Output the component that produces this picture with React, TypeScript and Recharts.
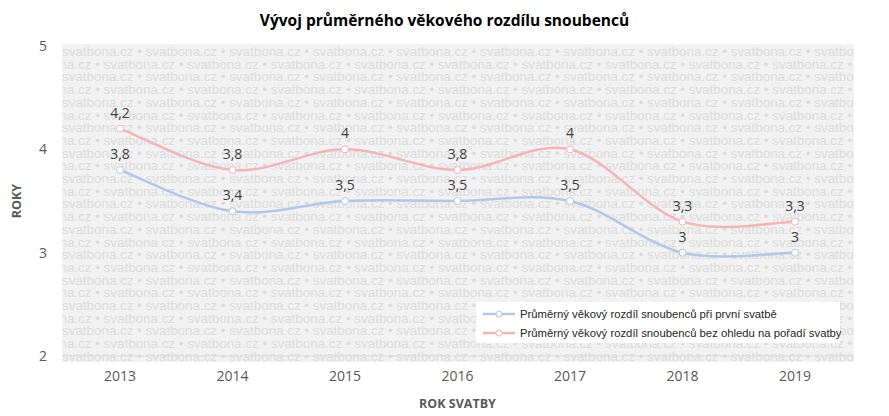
import React from "react";
import { LineChart, Line, XAxis, YAxis, Legend, LabelList } from "recharts";

const years = ["2013", "2014", "2015", "2016", "2017", "2018", "2019"];
const firstMarriage = [3.8, 3.4, 3.5, 3.5, 3.5, 3.0, 3.0];
const anyMarriage = [4.2, 3.8, 4.0, 3.8, 4.0, 3.3, 3.3];
const yTicks = [2, 3, 4, 5];

const seriesNames = {
  first: "Průměrný věkový rozdíl snoubenců při první svatbě",
  any: "Průměrný věkový rozdíl snoubenců bez ohledu na pořadí svatby",
};
const legendOrder = [seriesNames.first, seriesNames.any];

const data = years.map((year, i) => ({
  year,
  first: firstMarriage[i],
  any: anyMarriage[i],
}));

const BLUE = "#b4c7e7";
const PINK = "#f4b5b7";
const FONT = "'Open Sans', sans-serif";

// Excel-like smoothing (Catmull-Rom through the scaled points)
const smoothCurve = (context: any) => {
  let pts: [number, number][] = [];
  return {
    areaStart() {},
    areaEnd() {},
    lineStart() {
      pts = [];
    },
    point(x: number, y: number) {
      pts.push([+x, +y]);
    },
    lineEnd() {
      if (!pts.length) return;
      context.moveTo(pts[0][0], pts[0][1]);
      for (let i = 0; i < pts.length - 1; i++) {
        const p0 = pts[Math.max(i - 1, 0)];
        const p1 = pts[i];
        const p2 = pts[i + 1];
        const p3 = pts[Math.min(i + 2, pts.length - 1)];
        context.bezierCurveTo(
          p1[0] + (p2[0] - p0[0]) / 6,
          p1[1] + (p2[1] - p0[1]) / 6,
          p2[0] - (p3[0] - p1[0]) / 6,
          p2[1] - (p3[1] - p1[1]) / 6,
          p2[0],
          p2[1]
        );
      }
    },
  };
};

const fmt = (v: any) => String(v).replace(".", ",");

function Watermark() {
  const row = "svatbona.cz • ".repeat(12);
  return (
    <div
      style={{
        position: "absolute",
        left: 62,
        top: 44,
        width: 792,
        height: 318,
        background: "#f2f2f2",
        overflow: "hidden",
        paddingTop: 2,
        boxSizing: "border-box",
        fontFamily: "'Liberation Sans', Arial, sans-serif",
        fontSize: 13.4,
        lineHeight: "12.7px",
        color: "#dcdcdc",
        whiteSpace: "nowrap",
      }}
    >
      {Array.from({ length: 26 }, (_, i) => (
        <div key={i} style={{ marginLeft: i % 2 ? -42 : 0 }}>
          {row}
        </div>
      ))}
    </div>
  );
}

function LegendBox(props: any) {
  const items = [...(props.payload || [])].sort(
    (a: any, b: any) => legendOrder.indexOf(a.value) - legendOrder.indexOf(b.value)
  );
  return (
    <div
      style={{
        width: 364,
        height: 41,
        boxSizing: "border-box",
        background: "#fff",
        padding: "2px 0",
        fontFamily: "'Liberation Sans', Arial, sans-serif",
        fontSize: 11.3,
        color: "#262626",
        whiteSpace: "nowrap",
      }}
    >
      {items.map((p: any) => (
        <div key={p.value} style={{ display: "flex", alignItems: "center", height: 19 }}>
          <svg width={44} height={10} style={{ flex: "none" }}>
            <line x1={7} x2={39} y1={5} y2={5} stroke={p.color} strokeWidth={2.5} />
            <circle cx={23} cy={5} r={3} fill="#fff" stroke={p.color} strokeWidth={1} />
          </svg>
          <span>{p.value}</span>
        </div>
      ))}
    </div>
  );
}

export default function App() {
  return (
    <div
      style={{
        position: "absolute",
        left: 0,
        top: 0,
        width: 889,
        height: 416,
        background: "#fff",
        fontFamily: FONT,
      }}
    >
      <Watermark />
      <div
        style={{
          position: "absolute",
          left: 0,
          top: 9,
          width: 889,
          textAlign: "center",
          fontWeight: 700,
          fontSize: 15.5,
          color: "#000",
        }}
      >
        Vývoj průměrného věkového rozdílu snoubenců
      </div>
      <div style={{ position: "absolute", left: 0, top: 0 }}>
        <LineChart
          width={889}
          height={416}
          data={data}
          margin={{ top: 46, right: 37, bottom: 30, left: 23 }}
        >
          <XAxis
            dataKey="year"
            height={30}
            padding={{ left: 57, right: 57 }}
            tickLine={false}
            axisLine={{ stroke: "#d9d9d9" }}
            tickMargin={9}
            tick={{ fill: "#595959", fontSize: 14, fontFamily: FONT }}
            label={{
              value: "ROK SVATBY",
              position: "bottom",
              offset: 13,
              style: { fill: "#595959", fontSize: 12.5, fontWeight: 700, fontFamily: FONT },
            }}
          />
          <YAxis
            width={40}
            domain={[2, 5]}
            ticks={yTicks}
            tickLine={false}
            axisLine={false}
            tickMargin={10}
            tick={{ fill: "#595959", fontSize: 14, fontFamily: FONT }}
            label={{
              value: "ROKY",
              angle: -90,
              position: "insideLeft",
              offset: -6,
              style: {
                fill: "#595959",
                fontSize: 12.5,
                fontWeight: 700,
                fontFamily: FONT,
                textAnchor: "middle",
              },
            }}
          />
          <Legend
            layout="horizontal"
            verticalAlign="middle"
            align="center"
            wrapperStyle={{ left: 476, top: 302, width: 364 }}
            content={LegendBox}
          />
          <Line
            dataKey="first"
            name={seriesNames.first}
            type={smoothCurve as any}
            stroke={BLUE}
            strokeWidth={2.5}
            dot={{ r: 3.5, fill: "#fff", stroke: BLUE, strokeWidth: 1 }}
            activeDot={false}
            isAnimationActive={false}
          >
            <LabelList
              dataKey="first"
              position="top"
              offset={11}
              formatter={fmt}
              style={{ fill: "#404040", fontSize: 14, fontFamily: FONT }}
            />
          </Line>
          <Line
            dataKey="any"
            name={seriesNames.any}
            type={smoothCurve as any}
            stroke={PINK}
            strokeWidth={2.5}
            dot={{ r: 3.5, fill: "#fff", stroke: PINK, strokeWidth: 1 }}
            activeDot={false}
            isAnimationActive={false}
          >
            <LabelList
              dataKey="any"
              position="top"
              offset={11}
              formatter={fmt}
              style={{ fill: "#404040", fontSize: 14, fontFamily: FONT }}
            />
          </Line>
        </LineChart>
      </div>
    </div>
  );
}
